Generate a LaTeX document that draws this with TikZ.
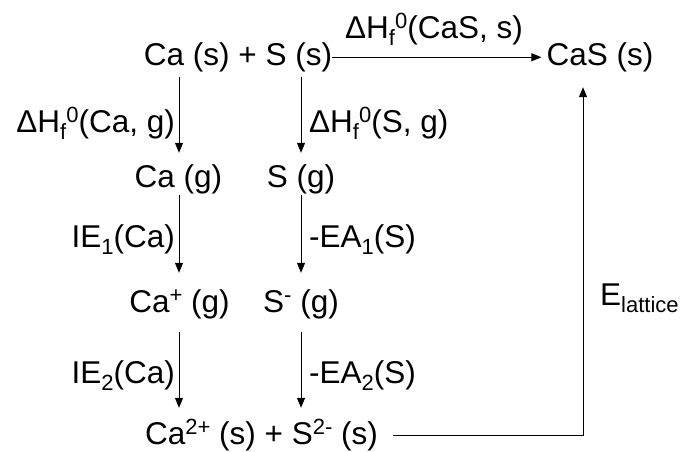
\documentclass[tikz,border=0pt]{standalone}
\usepackage{fontspec}
\setmainfont{Liberation Sans}
\usetikzlibrary{arrows.meta}
\newcommand\lowtx[1]{\raisebox{-7pt}{\fontsize{22}{22}\selectfont #1}}
\newcommand\hightx[1]{\raisebox{9.5pt}{\fontsize{22}{22}\selectfont #1}}
\tikzset{
  txt/.style={font=\fontsize{31.5}{36}\selectfont, inner sep=0pt, text height=22pt, text depth=6.5pt, anchor=base},
  lbl/.style={font=\fontsize{31.5}{36}\selectfont, inner sep=0pt},
  arr/.style={-{Triangle[width=8pt,length=10pt]}, line width=1pt}
}
\begin{document}
\begin{tikzpicture}[x=1pt,y=-1pt]
\useasboundingbox (0,0) rectangle (680,451);
\coordinate (cA) at (179,0);
\coordinate (cB) at (301,0);
\coordinate (cL) at (583,0);
\node[txt] (r1) at (238,65) {Ca (s) + S (s)};
\node[txt] (cas) at (600,65) {CaS (s)};
\node[txt] (cag) at (178.5,187) {Ca (g)};
\node[txt] (sg) at (301,187) {S (g)};
\node[txt] (cap) at (179.5,312) {Ca\hightx{+} (g)};
\node[txt] (sm) at (301,312) {S\hightx{-} (g)};
\node[txt] (r4) at (261.5,444) {Ca\hightx{2+} (s) + S\hightx{2-} (s)};
\draw[arr, shorten >=5pt] (r1.east) -- (cas.west);
\node[lbl, anchor=base] (lf) at (434,38) {ΔH\lowtx{f}\hightx{0}(CaS, s)};
\draw[arr, shorten <=5.5pt, shorten >=12pt] (r1.south -| cA) -- (cag.north -| cA);
\draw[arr, shorten <=5.5pt, shorten >=12pt] (r1.south -| cB) -- (sg.north -| cB);
\draw[arr, shorten <=1.5pt, shorten >=17pt] (cag.south -| cA) -- (cap.north -| cA);
\draw[arr, shorten <=1.5pt, shorten >=17pt] (sg.south -| cB) -- (sm.north -| cB);
\draw[arr, shorten <=13.5pt, shorten >=14pt] (cap.south -| cA) -- (r4.north -| cA);
\draw[arr, shorten <=13.5pt, shorten >=14pt] (sm.south -| cB) -- (r4.north -| cB);
\draw[arr, shorten >=15.5pt] ([xshift=15pt,yshift=1pt]r4.east) -- ([yshift=1pt]r4.east -| cL) -- (cas.south -| cL);
\node[lbl, anchor=base east] (l1) at (175,132) {ΔH\lowtx{f}\hightx{0}(Ca, g)};
\node[lbl, anchor=base west] (l2) at (309,132) {ΔH\lowtx{f}\hightx{0}(S, g)};
\node[lbl, anchor=base east] (l3) at (175,247) {IE\lowtx{1}(Ca)};
\node[lbl, anchor=base west] (l4) at (309,247) {-EA\lowtx{1}(S)};
\node[lbl, anchor=base east] (l5) at (175,383) {IE\lowtx{2}(Ca)};
\node[lbl, anchor=base west] (l6) at (309,383) {-EA\lowtx{2}(S)};
\node[lbl, anchor=base west] (l7) at (600,305) {E\lowtx{lattice}};
\end{tikzpicture}
\end{document}
